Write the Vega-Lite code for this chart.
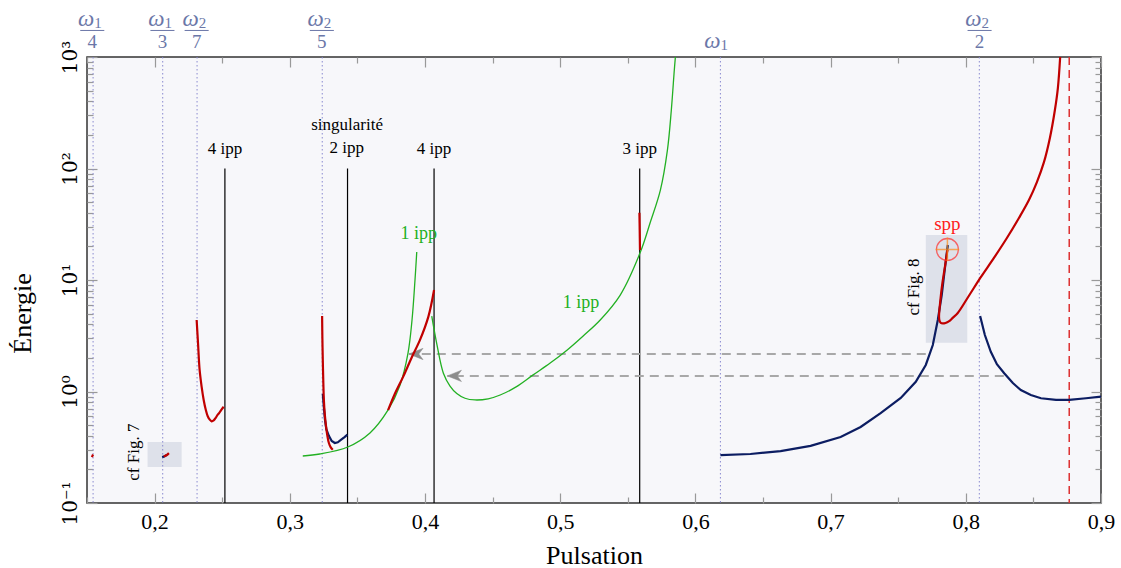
{
  "$schema": "https://vega.github.io/schema/vega-lite/v6.json",
  "width": 1014,
  "height": 446,
  "autosize": "none",
  "padding": {"left": 87, "top": 57, "right": 20, "bottom": 65},
  "background": "white",
  "config": {
    "view": {"fill": "#f7f7fa", "stroke": "#333333", "strokeWidth": 1.5},
    "font": "Liberation Serif"
  },
  "datasets": {
    "boites": [
      {"x": 0.1948, "x2": 0.2200, "y": 0.352, "y2": 0.21},
      {"x": 0.7704, "x2": 0.8011, "y": 25.3, "y2": 2.74}
    ],
    "omegas": [{"x": 0.1545}, {"x": 0.206}, {"x": 0.2314}, {"x": 0.324}, {"x": 0.6185}, {"x": 0.81}],
    "asymptote": [{"x": 0.8765}],
    "ipp": [
      {"x": 0.252, "y": 100, "y2": 0.1},
      {"x": 0.3427, "y": 100, "y2": 0.1},
      {"x": 0.4067, "y": 100, "y2": 0.1},
      {"x": 0.5588, "y": 100, "y2": 0.1}
    ],
    "fleches": [
      {"x": 0.7704, "x2": 0.3881, "y": 2.17},
      {"x": 0.8281, "x2": 0.4165, "y": 1.38}
    ],
    "vert": [
      {"s": "g1", "k": 0, "x": 0.3096, "y": 0.264},
      {"s": "g1", "k": 1, "x": 0.3222, "y": 0.275},
      {"s": "g1", "k": 2, "x": 0.3429, "y": 0.318},
      {"s": "g1", "k": 3, "x": 0.3593, "y": 0.425},
      {"s": "g1", "k": 4, "x": 0.3726, "y": 0.68},
      {"s": "g1", "k": 5, "x": 0.3815, "y": 1.14},
      {"s": "g1", "k": 6, "x": 0.3874, "y": 2.2},
      {"s": "g1", "k": 7, "x": 0.3904, "y": 4.38},
      {"s": "g1", "k": 8, "x": 0.3926, "y": 10},
      {"s": "g1", "k": 9, "x": 0.3939, "y": 17.8},
      {"s": "g2", "k": 0, "x": 0.4050, "y": 4.75},
      {"s": "g2", "k": 1, "x": 0.4089, "y": 2.61},
      {"s": "g2", "k": 2, "x": 0.4136, "y": 1.46},
      {"s": "g2", "k": 3, "x": 0.4185, "y": 1.12},
      {"s": "g2", "k": 4, "x": 0.4235, "y": 0.96},
      {"s": "g2", "k": 5, "x": 0.4296, "y": 0.87},
      {"s": "g2", "k": 6, "x": 0.4370, "y": 0.84},
      {"s": "g2", "k": 7, "x": 0.4467, "y": 0.86},
      {"s": "g2", "k": 8, "x": 0.4556, "y": 0.93},
      {"s": "g2", "k": 9, "x": 0.4674, "y": 1.10},
      {"s": "g2", "k": 10, "x": 0.4800, "y": 1.41},
      {"s": "g2", "k": 11, "x": 0.4926, "y": 1.80},
      {"s": "g2", "k": 12, "x": 0.5052, "y": 2.36},
      {"s": "g2", "k": 13, "x": 0.5170, "y": 3.15},
      {"s": "g2", "k": 14, "x": 0.5296, "y": 4.38},
      {"s": "g2", "k": 15, "x": 0.5444, "y": 7.33},
      {"s": "g2", "k": 16, "x": 0.5593, "y": 17.8},
      {"s": "g2", "k": 17, "x": 0.5667, "y": 33.1},
      {"s": "g2", "k": 18, "x": 0.5741, "y": 64},
      {"s": "g2", "k": 19, "x": 0.5793, "y": 146},
      {"s": "g2", "k": 20, "x": 0.5822, "y": 335},
      {"s": "g2", "k": 21, "x": 0.5844, "y": 765},
      {"s": "g2", "k": 22, "x": 0.5852, "y": 1000}
    ],
    "bleu": [
      {"s": "b7", "k": 0, "x": 0.2056, "y": 0.258},
      {"s": "b7", "k": 1, "x": 0.2075, "y": 0.263},
      {"s": "b7", "k": 2, "x": 0.2090, "y": 0.27},
      {"s": "b2", "k": 0, "x": 0.3244, "y": 0.95},
      {"s": "b2", "k": 1, "x": 0.3252, "y": 0.72},
      {"s": "b2", "k": 2, "x": 0.3260, "y": 0.56},
      {"s": "b2", "k": 3, "x": 0.3270, "y": 0.46},
      {"s": "b2", "k": 4, "x": 0.3289, "y": 0.40},
      {"s": "b2", "k": 5, "x": 0.3310, "y": 0.36},
      {"s": "b2", "k": 6, "x": 0.3333, "y": 0.345},
      {"s": "b2", "k": 7, "x": 0.3355, "y": 0.35},
      {"s": "b2", "k": 8, "x": 0.3380, "y": 0.37},
      {"s": "b2", "k": 9, "x": 0.3405, "y": 0.39},
      {"s": "b2", "k": 10, "x": 0.3426, "y": 0.41},
      {"s": "b5", "k": 0, "x": 0.6185, "y": 0.269},
      {"s": "b5", "k": 1, "x": 0.6407, "y": 0.275},
      {"s": "b5", "k": 2, "x": 0.6630, "y": 0.292},
      {"s": "b5", "k": 3, "x": 0.6852, "y": 0.325},
      {"s": "b5", "k": 4, "x": 0.7074, "y": 0.391},
      {"s": "b5", "k": 5, "x": 0.7222, "y": 0.481},
      {"s": "b5", "k": 6, "x": 0.7370, "y": 0.641},
      {"s": "b5", "k": 7, "x": 0.7519, "y": 0.875},
      {"s": "b5", "k": 8, "x": 0.7630, "y": 1.22},
      {"s": "b5", "k": 9, "x": 0.7704, "y": 1.73},
      {"s": "b5", "k": 10, "x": 0.7756, "y": 2.61},
      {"s": "b5", "k": 11, "x": 0.7793, "y": 4.38},
      {"s": "b5", "k": 12, "x": 0.7822, "y": 7.33},
      {"s": "b5", "k": 13, "x": 0.7844, "y": 12.3},
      {"s": "b5", "k": 14, "x": 0.7867, "y": 20.6},
      {"s": "b6", "k": 0, "x": 0.8106, "y": 4.75},
      {"s": "b6", "k": 1, "x": 0.8141, "y": 3.21},
      {"s": "b6", "k": 2, "x": 0.8185, "y": 2.27},
      {"s": "b6", "k": 3, "x": 0.8230, "y": 1.76},
      {"s": "b6", "k": 4, "x": 0.8284, "y": 1.46},
      {"s": "b6", "k": 5, "x": 0.8348, "y": 1.19},
      {"s": "b6", "k": 6, "x": 0.8407, "y": 1.03},
      {"s": "b6", "k": 7, "x": 0.8481, "y": 0.93},
      {"s": "b6", "k": 8, "x": 0.8556, "y": 0.87},
      {"s": "b6", "k": 9, "x": 0.8667, "y": 0.84},
      {"s": "b6", "k": 10, "x": 0.8765, "y": 0.84},
      {"s": "b6", "k": 11, "x": 0.8889, "y": 0.87},
      {"s": "b6", "k": 12, "x": 0.9000, "y": 0.90}
    ],
    "rouge": [
      {"s": "r0", "k": 0, "x": 0.1536, "y": 0.258},
      {"s": "r0", "k": 1, "x": 0.1545, "y": 0.272},
      {"s": "r7", "k": 0, "x": 0.2068, "y": 0.262},
      {"s": "r7", "k": 1, "x": 0.2088, "y": 0.268},
      {"s": "r7", "k": 2, "x": 0.2106, "y": 0.28},
      {"s": "r1", "k": 0, "x": 0.2311, "y": 4.38},
      {"s": "r1", "k": 1, "x": 0.2322, "y": 2.6},
      {"s": "r1", "k": 2, "x": 0.2333, "y": 1.56},
      {"s": "r1", "k": 3, "x": 0.2348, "y": 1.1},
      {"s": "r1", "k": 4, "x": 0.2363, "y": 0.84},
      {"s": "r1", "k": 5, "x": 0.2378, "y": 0.69},
      {"s": "r1", "k": 6, "x": 0.2393, "y": 0.60},
      {"s": "r1", "k": 7, "x": 0.2408, "y": 0.56},
      {"s": "r1", "k": 8, "x": 0.2422, "y": 0.54},
      {"s": "r1", "k": 9, "x": 0.2437, "y": 0.55},
      {"s": "r1", "k": 10, "x": 0.2452, "y": 0.58},
      {"s": "r1", "k": 11, "x": 0.2467, "y": 0.62},
      {"s": "r1", "k": 12, "x": 0.2481, "y": 0.65},
      {"s": "r1", "k": 13, "x": 0.2496, "y": 0.69},
      {"s": "r1", "k": 14, "x": 0.2511, "y": 0.73},
      {"s": "r2", "k": 0, "x": 0.3239, "y": 4.75},
      {"s": "r2", "k": 1, "x": 0.3241, "y": 3.0},
      {"s": "r2", "k": 2, "x": 0.3244, "y": 1.92},
      {"s": "r2", "k": 3, "x": 0.3248, "y": 1.2},
      {"s": "r2", "k": 4, "x": 0.3252, "y": 0.84},
      {"s": "r2", "k": 5, "x": 0.3259, "y": 0.62},
      {"s": "r2", "k": 6, "x": 0.3267, "y": 0.50},
      {"s": "r2", "k": 7, "x": 0.3278, "y": 0.40},
      {"s": "r2", "k": 8, "x": 0.3289, "y": 0.345},
      {"s": "r2", "k": 9, "x": 0.3303, "y": 0.315},
      {"s": "r2", "k": 10, "x": 0.3318, "y": 0.30},
      {"s": "r3", "k": 0, "x": 0.3727, "y": 0.68},
      {"s": "r3", "k": 1, "x": 0.3778, "y": 0.96},
      {"s": "r3", "k": 2, "x": 0.3839, "y": 1.36},
      {"s": "r3", "k": 3, "x": 0.3900, "y": 2.0},
      {"s": "r3", "k": 4, "x": 0.3963, "y": 2.9},
      {"s": "r3", "k": 5, "x": 0.4025, "y": 4.69},
      {"s": "r3", "k": 6, "x": 0.4067, "y": 8.13},
      {"s": "r4", "k": 0, "x": 0.5586, "y": 40.1},
      {"s": "r4", "k": 1, "x": 0.5588, "y": 28},
      {"s": "r4", "k": 2, "x": 0.5590, "y": 18.6},
      {"s": "r5", "k": 0, "x": 0.7864, "y": 18.6},
      {"s": "r5", "k": 1, "x": 0.7845, "y": 13.0},
      {"s": "r5", "k": 2, "x": 0.7827, "y": 9.4},
      {"s": "r5", "k": 3, "x": 0.7812, "y": 6.6},
      {"s": "r5", "k": 4, "x": 0.7802, "y": 4.69},
      {"s": "r5", "k": 5, "x": 0.7806, "y": 4.3},
      {"s": "r5", "k": 6, "x": 0.7815, "y": 4.12},
      {"s": "r5", "k": 7, "x": 0.7830, "y": 4.08},
      {"s": "r5", "k": 8, "x": 0.7850, "y": 4.12},
      {"s": "r5", "k": 9, "x": 0.7874, "y": 4.25},
      {"s": "r5", "k": 10, "x": 0.7905, "y": 4.6},
      {"s": "r5", "k": 11, "x": 0.7939, "y": 5.03},
      {"s": "r5", "k": 12, "x": 0.8022, "y": 7.19},
      {"s": "r5", "k": 13, "x": 0.8111, "y": 10.6},
      {"s": "r5", "k": 14, "x": 0.8207, "y": 15.7},
      {"s": "r5", "k": 15, "x": 0.8304, "y": 23.8},
      {"s": "r5", "k": 16, "x": 0.8393, "y": 36.0},
      {"s": "r5", "k": 17, "x": 0.8467, "y": 52.2},
      {"s": "r5", "k": 18, "x": 0.8526, "y": 75.6},
      {"s": "r5", "k": 19, "x": 0.8578, "y": 114},
      {"s": "r5", "k": 20, "x": 0.8622, "y": 188},
      {"s": "r5", "k": 21, "x": 0.8659, "y": 335},
      {"s": "r5", "k": 22, "x": 0.8681, "y": 527},
      {"s": "r5", "k": 23, "x": 0.8698, "y": 1000}
    ],
    "spp": [{"x": 0.7864, "y": 18.8}],
    "etiquettes": [
      {"x": 0.252, "y": 150, "t": "4 ipp"},
      {"x": 0.3422, "y": 152, "t": "2 ipp"},
      {"x": 0.3424, "y": 246, "t": "singularité"},
      {"x": 0.4067, "y": 150, "t": "4 ipp"},
      {"x": 0.5588, "y": 150, "t": "3 ipp"}
    ],
    "etiquettesVert": [
      {"x": 0.3953, "y": 25.9, "t": "1 ipp"},
      {"x": 0.5153, "y": 6.18, "t": "1 ipp"}
    ],
    "etiquettesRouge": [{"x": 0.7864, "y": 31.8, "t": "spp"}],
    "renvois": [
      {"x": 0.1848, "y": 0.286, "t": "cf Fig. 7"},
      {"x": 0.7619, "y": 8.65, "t": "cf Fig. 8"}
    ],
    "omegaHaut": [
      {"x": 0.1539, "y": 2193, "t": "ω", "i": "1"},
      {"x": 0.2058, "y": 2193, "t": "ω", "i": "1"},
      {"x": 0.2311, "y": 2193, "t": "ω", "i": "2"},
      {"x": 0.3237, "y": 2193, "t": "ω", "i": "2"},
      {"x": 0.617, "y": 1400, "t": "ω", "i": "1"},
      {"x": 0.8102, "y": 2193, "t": "ω", "i": "2"}
    ],
    "denominateurs": [
      {"x": 0.1539, "y": 1363, "t": "4"},
      {"x": 0.2058, "y": 1363, "t": "3"},
      {"x": 0.2311, "y": 1363, "t": "7"},
      {"x": 0.3237, "y": 1363, "t": "5"},
      {"x": 0.8102, "y": 1363, "t": "2"}
    ],
    "barres": [
      {"x": 0.1450, "x2": 0.1628, "y": 1730},
      {"x": 0.1969, "x2": 0.2147, "y": 1730},
      {"x": 0.2222, "x2": 0.2400, "y": 1730},
      {"x": 0.3148, "x2": 0.3326, "y": 1730},
      {"x": 0.8013, "x2": 0.8191, "y": 1730}
    ]
  },
  "resolve": {"axis": {"x": "independent", "y": "independent"}},
  "layer": [
    {
      "data": {"name": "boites"},
      "mark": {"type": "rect", "color": "#dee1ea"},
      "encoding": {
        "x": {"field": "x", "type": "quantitative", "scale": {"domain": [0.15, 0.9], "nice": false, "zero": false},
          "axis": {"orient": "bottom", "values": [0.2, 0.3, 0.4, 0.5, 0.6, 0.7, 0.8, 0.9], "ticks": false, "domain": false, "grid": false,
            "labelExpr": "replace(format(datum.value, '.1f'), '.', ',')", "labelFont": "Liberation Serif", "labelFontSize": 22, "labelColor": "#000000",
            "labelPadding": 8, "labelFlush": false, "labelOverlap": false,
            "title": "Pulsation", "titleFont": "Liberation Serif", "titleFontSize": 26, "titleFontWeight": "normal", "titleColor": "#000000", "titlePadding": 10}},
        "x2": {"field": "x2"},
        "y": {"field": "y", "type": "quantitative", "scale": {"type": "log", "domain": [0.1, 1000], "nice": false},
          "axis": {"orient": "left", "values": [0.1, 1, 10, 100, 1000], "ticks": false, "domain": false, "grid": false,
            "labelExpr": "datum.value >= 999 ? '10³' : datum.value >= 99 ? '10²' : datum.value >= 9 ? '10¹' : datum.value >= 0.9 ? '10⁰' : '10⁻¹'",
            "labelAngle": -90, "labelAlign": "center", "labelBaseline": "bottom", "labelFont": "DejaVu Serif", "labelFontSize": 20, "labelColor": "#000000",
            "labelPadding": 7, "labelFlush": false, "labelOverlap": false,
            "title": "Énergie", "titleFont": "Liberation Serif", "titleFontSize": 26, "titleFontWeight": "normal", "titleColor": "#000000",
            "titleAngle": -90, "titleX": -65, "titleY": 256, "titleAlign": "center", "titleBaseline": "middle"}},
        "y2": {"field": "y2"}
      }
    },
    {
      "data": {"name": "omegas"},
      "mark": {"type": "rule", "color": "#8a8ad0", "strokeWidth": 1, "strokeDash": [1.5, 2.5]},
      "encoding": {
        "x": {"field": "x", "type": "quantitative", "scale": {"domain": [0.15, 0.9], "nice": false, "zero": false}, "axis": null}
      }
    },
    {
      "data": {"name": "asymptote"},
      "mark": {"type": "rule", "color": "#dd3030", "strokeWidth": 1.5, "strokeDash": [8, 5]},
      "encoding": {
        "x": {"field": "x", "type": "quantitative", "scale": {"domain": [0.15, 0.9], "nice": false, "zero": false}, "axis": null}
      }
    },
    {
      "data": {"name": "ipp"},
      "mark": {"type": "rule", "color": "#000000", "strokeWidth": 1.2},
      "encoding": {
        "x": {"field": "x", "type": "quantitative", "scale": {"domain": [0.15, 0.9], "nice": false, "zero": false},
          "axis": {"orient": "bottom", "values": [0.2, 0.3, 0.4, 0.5, 0.6, 0.7, 0.8, 0.9], "labels": false, "domain": false, "grid": false, "tickSize": -10, "tickColor": "#999999", "tickWidth": 1.2, "title": null, "offset": 0}},
        "y": {"field": "y", "type": "quantitative", "scale": {"type": "log", "domain": [0.1, 1000], "nice": false},
          "axis": {"orient": "left", "values": [0.1, 1, 10, 100, 1000], "labels": false, "domain": false, "grid": false, "tickSize": -10, "tickColor": "#999999", "tickWidth": 1.2, "title": null, "offset": 0}},
        "y2": {"field": "y2"}
      }
    },
    {
      "data": {"name": "fleches"},
      "mark": {"type": "rule", "color": "#a8a8a8", "strokeWidth": 2, "strokeDash": [9, 6]},
      "encoding": {
        "x": {"field": "x", "type": "quantitative", "scale": {"domain": [0.15, 0.9], "nice": false, "zero": false},
          "axis": {"orient": "bottom", "values": [0.15, 0.25, 0.35, 0.45, 0.55, 0.65, 0.75, 0.85], "labels": false, "domain": false, "grid": false, "tickSize": -6, "tickColor": "#999999", "tickWidth": 1.2, "title": null, "offset": 0}},
        "x2": {"field": "x2"},
        "y": {"field": "y", "type": "quantitative", "scale": {"type": "log", "domain": [0.1, 1000], "nice": false},
          "axis": {"orient": "left", "values": [0.2, 0.3, 0.4, 0.5, 0.6, 0.7, 0.8, 0.9, 2, 3, 4, 5, 6, 7, 8, 9, 20, 30, 40, 50, 60, 70, 80, 90, 200, 300, 400, 500, 600, 700, 800, 900], "labels": false, "domain": false, "grid": false, "tickSize": -6, "tickColor": "#999999", "tickWidth": 1.2, "title": null, "offset": 0}}
      }
    },
    {
      "data": {"name": "fleches"},
      "mark": {"type": "point", "shape": "M 0 0 L 2 -0.8 L 1.4 0 L 2 0.8 Z", "filled": true, "fill": "#8c8c8c", "stroke": "#8c8c8c", "strokeWidth": 0.5, "size": 200, "opacity": 1, "fillOpacity": 1},
      "encoding": {
        "x": {"field": "x2", "type": "quantitative", "scale": {"domain": [0.15, 0.9], "nice": false, "zero": false}, "axis": null},
        "y": {"field": "y", "type": "quantitative", "scale": {"type": "log", "domain": [0.1, 1000], "nice": false}, "axis": null}
      }
    },
    {
      "data": {"name": "vert"},
      "mark": {"type": "line", "color": "#22b022", "strokeWidth": 1.3, "interpolate": "catmull-rom", "clip": true},
      "encoding": {
        "x": {"field": "x", "type": "quantitative", "scale": {"domain": [0.15, 0.9], "nice": false, "zero": false}, "axis": null},
        "y": {"field": "y", "type": "quantitative", "scale": {"type": "log", "domain": [0.1, 1000], "nice": false}, "axis": null},
        "detail": {"field": "s"},
        "order": {"field": "k"}
      }
    },
    {
      "data": {"name": "bleu"},
      "mark": {"type": "line", "color": "#0c1d62", "strokeWidth": 2.2, "interpolate": "linear", "clip": true},
      "encoding": {
        "x": {"field": "x", "type": "quantitative", "scale": {"domain": [0.15, 0.9], "nice": false, "zero": false},
          "axis": {"orient": "top", "values": [0.15, 0.25, 0.35, 0.45, 0.55, 0.65, 0.75, 0.85], "labels": false, "domain": false, "grid": false, "tickSize": -6, "tickColor": "#999999", "tickWidth": 1.2, "title": null, "offset": 0}},
        "y": {"field": "y", "type": "quantitative", "scale": {"type": "log", "domain": [0.1, 1000], "nice": false},
          "axis": {"orient": "right", "values": [0.2, 0.3, 0.4, 0.5, 0.6, 0.7, 0.8, 0.9, 2, 3, 4, 5, 6, 7, 8, 9, 20, 30, 40, 50, 60, 70, 80, 90, 200, 300, 400, 500, 600, 700, 800, 900], "labels": false, "domain": false, "grid": false, "tickSize": -6, "tickColor": "#999999", "tickWidth": 1.2, "title": null, "offset": 0}},
        "detail": {"field": "s"},
        "order": {"field": "k"}
      }
    },
    {
      "data": {"name": "rouge"},
      "mark": {"type": "line", "color": "#c00000", "strokeWidth": 2.2, "interpolate": "catmull-rom", "clip": true},
      "encoding": {
        "x": {"field": "x", "type": "quantitative", "scale": {"domain": [0.15, 0.9], "nice": false, "zero": false},
          "axis": {"orient": "top", "values": [0.2, 0.3, 0.4, 0.5, 0.6, 0.7, 0.8, 0.9], "labels": false, "domain": false, "grid": false, "tickSize": -10, "tickColor": "#999999", "tickWidth": 1.2, "title": null, "offset": 0}},
        "y": {"field": "y", "type": "quantitative", "scale": {"type": "log", "domain": [0.1, 1000], "nice": false},
          "axis": {"orient": "right", "values": [0.1, 1, 10, 100, 1000], "labels": false, "domain": false, "grid": false, "tickSize": -10, "tickColor": "#999999", "tickWidth": 1.2, "title": null, "offset": 0}},
        "detail": {"field": "s"},
        "order": {"field": "k"}
      }
    },
    {
      "data": {"name": "spp"},
      "mark": {"type": "point", "shape": "circle", "filled": false, "color": "#ff2a2a", "strokeWidth": 1.3, "size": 480},
      "encoding": {
        "x": {"field": "x", "type": "quantitative", "scale": {"domain": [0.15, 0.9], "nice": false, "zero": false}, "axis": null},
        "y": {"field": "y", "type": "quantitative", "scale": {"type": "log", "domain": [0.1, 1000], "nice": false}, "axis": null}
      }
    },
    {
      "data": {"name": "spp"},
      "mark": {"type": "point", "shape": "M -1 0 L 1 0 M 0 -1 L 0 1", "filled": false, "color": "#ff8c1a", "strokeWidth": 1.5, "size": 560},
      "encoding": {
        "x": {"field": "x", "type": "quantitative", "scale": {"domain": [0.15, 0.9], "nice": false, "zero": false}, "axis": null},
        "y": {"field": "y", "type": "quantitative", "scale": {"type": "log", "domain": [0.1, 1000], "nice": false}, "axis": null}
      }
    },
    {
      "data": {"name": "etiquettes"},
      "mark": {"type": "text", "font": "Liberation Serif", "fontSize": 17, "color": "#000000", "baseline": "middle", "align": "center"},
      "encoding": {
        "x": {"field": "x", "type": "quantitative", "scale": {"domain": [0.15, 0.9], "nice": false, "zero": false}, "axis": null},
        "y": {"field": "y", "type": "quantitative", "scale": {"type": "log", "domain": [0.1, 1000], "nice": false}, "axis": null},
        "text": {"field": "t"}
      }
    },
    {
      "data": {"name": "etiquettesVert"},
      "mark": {"type": "text", "font": "Liberation Serif", "fontSize": 18, "color": "#22b022", "baseline": "middle", "align": "center"},
      "encoding": {
        "x": {"field": "x", "type": "quantitative", "scale": {"domain": [0.15, 0.9], "nice": false, "zero": false}, "axis": null},
        "y": {"field": "y", "type": "quantitative", "scale": {"type": "log", "domain": [0.1, 1000], "nice": false}, "axis": null},
        "text": {"field": "t"}
      }
    },
    {
      "data": {"name": "etiquettesRouge"},
      "mark": {"type": "text", "font": "Liberation Serif", "fontSize": 19, "color": "#ff1a1a", "baseline": "middle", "align": "center"},
      "encoding": {
        "x": {"field": "x", "type": "quantitative", "scale": {"domain": [0.15, 0.9], "nice": false, "zero": false}, "axis": null},
        "y": {"field": "y", "type": "quantitative", "scale": {"type": "log", "domain": [0.1, 1000], "nice": false}, "axis": null},
        "text": {"field": "t"}
      }
    },
    {
      "data": {"name": "renvois"},
      "mark": {"type": "text", "font": "Liberation Serif", "fontSize": 17, "color": "#000000", "baseline": "middle", "align": "center", "angle": 270},
      "encoding": {
        "x": {"field": "x", "type": "quantitative", "scale": {"domain": [0.15, 0.9], "nice": false, "zero": false}, "axis": null},
        "y": {"field": "y", "type": "quantitative", "scale": {"type": "log", "domain": [0.1, 1000], "nice": false}, "axis": null},
        "text": {"field": "t"}
      }
    },
    {
      "data": {"name": "omegaHaut"},
      "mark": {"type": "text", "font": "Liberation Serif", "fontSize": 23, "fontStyle": "italic", "color": "#6b77a8", "baseline": "middle", "align": "right", "dx": 2},
      "encoding": {
        "x": {"field": "x", "type": "quantitative", "scale": {"domain": [0.15, 0.9], "nice": false, "zero": false}, "axis": null},
        "y": {"field": "y", "type": "quantitative", "scale": {"type": "log", "domain": [0.1, 1000], "nice": false}, "axis": null},
        "text": {"field": "t"}
      }
    },
    {
      "data": {"name": "omegaHaut"},
      "mark": {"type": "text", "font": "Liberation Serif", "fontSize": 15, "color": "#6b77a8", "baseline": "middle", "align": "left", "dx": 2, "dy": 4},
      "encoding": {
        "x": {"field": "x", "type": "quantitative", "scale": {"domain": [0.15, 0.9], "nice": false, "zero": false}, "axis": null},
        "y": {"field": "y", "type": "quantitative", "scale": {"type": "log", "domain": [0.1, 1000], "nice": false}, "axis": null},
        "text": {"field": "i"}
      }
    },
    {
      "data": {"name": "denominateurs"},
      "mark": {"type": "text", "font": "Liberation Serif", "fontSize": 19, "color": "#6b77a8", "baseline": "middle", "align": "center"},
      "encoding": {
        "x": {"field": "x", "type": "quantitative", "scale": {"domain": [0.15, 0.9], "nice": false, "zero": false}, "axis": null},
        "y": {"field": "y", "type": "quantitative", "scale": {"type": "log", "domain": [0.1, 1000], "nice": false}, "axis": null},
        "text": {"field": "t"}
      }
    },
    {
      "data": {"name": "barres"},
      "mark": {"type": "rule", "color": "#6b77a8", "strokeWidth": 1},
      "encoding": {
        "x": {"field": "x", "type": "quantitative", "scale": {"domain": [0.15, 0.9], "nice": false, "zero": false}, "axis": null},
        "x2": {"field": "x2"},
        "y": {"field": "y", "type": "quantitative", "scale": {"type": "log", "domain": [0.1, 1000], "nice": false}, "axis": null}
      }
    }
  ]
}
